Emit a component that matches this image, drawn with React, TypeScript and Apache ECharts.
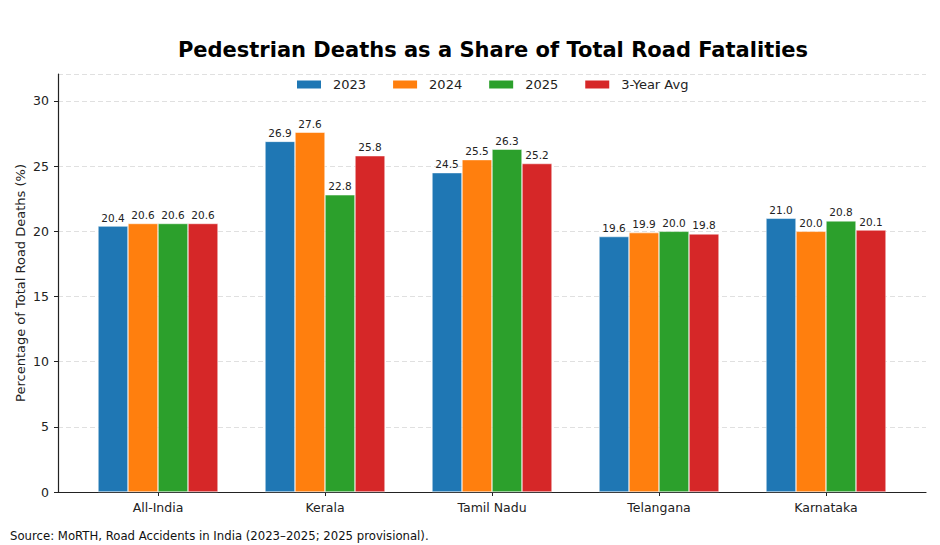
import React, { useEffect, useRef } from "react";
import * as echarts from "echarts";

const categories = ["All-India", "Kerala", "Tamil Nadu", "Telangana", "Karnataka"];
const seriesNames = ["2023", "2024", "2025", "3-Year Avg"];
const values2023 = [20.4, 26.9, 24.5, 19.6, 21.0];
const values2024 = [20.6, 27.6, 25.5, 19.9, 20.0];
const values2025 = [20.6, 22.8, 26.3, 20.0, 20.8];
const valuesAvg = [20.6, 25.8, 25.2, 19.8, 20.1];
const colors = ["#1f77b4", "#ff7f0e", "#2ca02c", "#d62728"];
const yTicks = [0, 5, 10, 15, 20, 25, 30];

const FONT = "DejaVu Sans";

export default function App() {
  const ref = useRef<HTMLDivElement>(null);
  useEffect(() => {
    document.body.style.margin = "0";
    if (!ref.current) return;
    const chart = echarts.init(ref.current, null, { renderer: "svg" });
    const allValues = [values2023, values2024, values2025, valuesAvg];
    const yMax = 32.07;
    const top = 74;
    const bottom = 53;
    chart.setOption({
      animation: false,
      textStyle: { fontFamily: FONT },
      title: {
        text: "Pedestrian Deaths as a Share of Total Road Fatalities",
        left: 488,
        textAlign: "center",
        top: 34,
        textStyle: { fontFamily: FONT, fontSize: 21, fontWeight: "bold", color: "#000" },
      },
      legend: {
        data: seriesNames,
        left: 290,
        top: 73,
        itemWidth: 26,
        itemHeight: 10,
        itemGap: 25,
        icon: "rect",
        textStyle: { fontFamily: FONT, fontSize: 13, color: "#222", padding: [0, 0, 0, 6] },
      },
      grid: [
        { left: 58, right: 14, top, bottom, containLabel: false },
        { left: 74.5, right: 30.5, top, bottom, containLabel: false },
      ],
      xAxis: [
        {
          type: "value",
          gridIndex: 0,
          min: 0,
          max: 1,
          axisLine: { show: true, onZero: false, lineStyle: { color: "#222", width: 1.2 } },
          axisTick: { show: false },
          axisLabel: { show: false },
          splitLine: { show: false },
        },
        {
          type: "category",
          gridIndex: 1,
          data: categories,
          axisLine: { show: false },
          axisTick: { show: true, alignWithLabel: true, length: 4, lineStyle: { color: "#222" } },
          axisLabel: { fontFamily: FONT, fontSize: 12.5, color: "#222", margin: 9 },
          splitLine: { show: false },
        },
      ],
      yAxis: [
        {
          type: "value",
          gridIndex: 0,
          min: 0,
          max: yMax,
          interval: 5,
          name: "Percentage of Total Road Deaths (%)",
          nameLocation: "middle",
          nameGap: 31,
          nameMoveOverlap: false,
          nameTextStyle: { fontFamily: FONT, fontSize: 13, color: "#222" },
          axisLine: { show: true, lineStyle: { color: "#222", width: 1.2 } },
          axisTick: { show: true, length: 4, lineStyle: { color: "#222" } },
          axisLabel: {
            fontFamily: FONT,
            fontSize: 12.5,
            color: "#222",
            margin: 9,
            showMaxLabel: false,
            formatter: (v: number) => (yTicks.includes(v) ? String(v) : ""),
          },
          splitLine: { show: true, lineStyle: { color: "#e0e0e0", type: [5, 3], width: 1 } },
        },
        {
          type: "value",
          gridIndex: 1,
          min: 0,
          max: yMax,
          show: false,
          splitLine: { show: false },
        },
      ],
      series: seriesNames.map((name, i) => ({
        name,
        type: "bar",
        xAxisIndex: 1,
        yAxisIndex: 1,
        data: allValues[i],
        barWidth: 30,
        barGap: "0%",
        itemStyle: { color: colors[i], borderColor: "#ffffff", borderWidth: 0.5 },
        label: {
          show: true,
          position: "top",
          distance: 3,
          fontFamily: FONT,
          fontSize: 10.5,
          color: "#222",
          formatter: (p: any) => Number(p.value).toFixed(1),
        },
      })),
      graphic: [
        {
          type: "text",
          left: 10,
          top: 530,
          style: {
            text: "Source: MoRTH, Road Accidents in India (2023–2025; 2025 provisional).",
            fontFamily: FONT,
            fontSize: 11.7,
            fill: "#111",
          },
        },
      ],
    });
    return () => chart.dispose();
  }, []);
  return <div ref={ref} style={{ width: 940, height: 545 }} />;
}
